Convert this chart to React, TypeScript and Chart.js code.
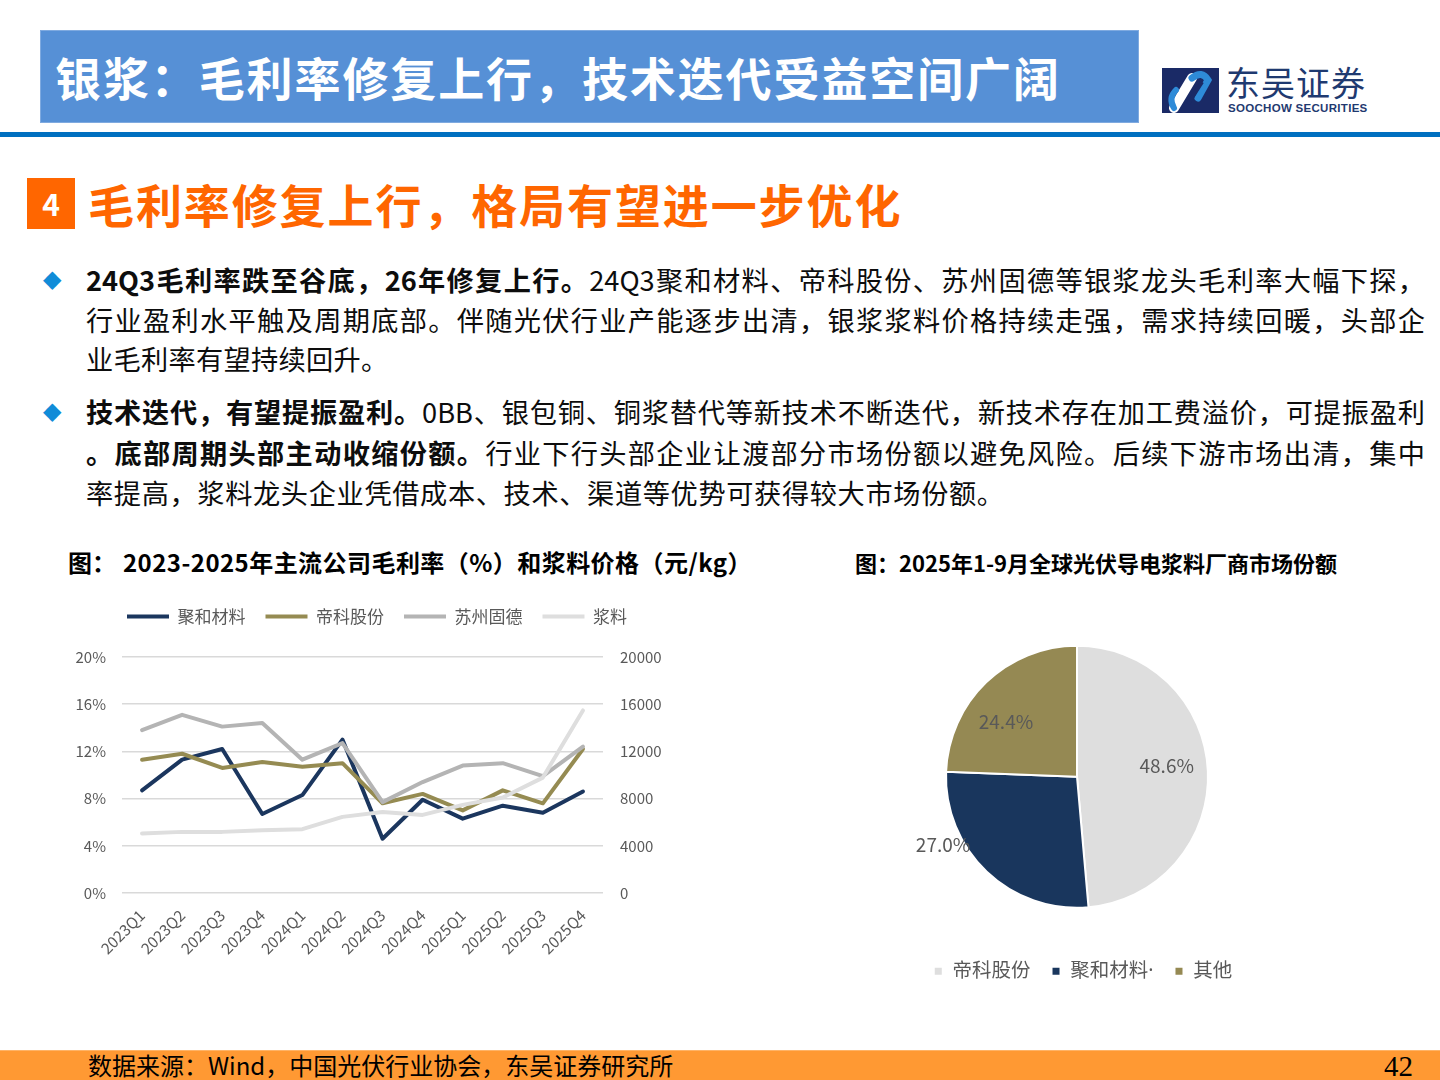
import React, { useEffect, useRef } from "react";
import { Chart, registerables } from "chart.js";
Chart.register(...registerables);

// ---------- data ----------
const quarters = ["2023Q1", "2023Q2", "2023Q3", "2023Q4", "2024Q1", "2024Q2", "2024Q3", "2024Q4", "2025Q1", "2025Q2", "2025Q3", "2025Q4"];
const juheMargin = [8.7, 11.3, 12.2, 6.7, 8.3, 13.0, 4.6, 7.9, 6.3, 7.4, 6.8, 8.6];
const dikeMargin = [11.3, 11.8, 10.6, 11.1, 10.7, 11.0, 7.6, 8.4, 7.0, 8.7, 7.6, 12.2];
const gudeMargin = [13.8, 15.1, 14.1, 14.4, 11.3, 12.7, 7.7, 9.4, 10.8, 11.0, 9.9, 12.4];
const pastePrice = [5040, 5180, 5180, 5320, 5410, 6450, 6870, 6620, 7470, 8090, 9780, 15470];
const lineSeriesNames = ["聚和材料", "帝科股份", "苏州固德", "浆料"];
const marginAxisMax = 20;
const marginAxisStep = 4;
const priceAxisMax = 20000;
const priceAxisStep = 4000;

const shareLabels = ["帝科股份", "聚和材料·", "其他"];
const shareValues = [48.6, 27.0, 24.4];

// ---------- styles ----------
const NAVY = "#1B365E";
const OLIVE = "#958B52";
const GRAY = "#B4B4B4";
const LIGHT = "#DEDEDE";
const TEXT_GRAY = "#595959";
const CJK = '"Noto Sans CJK SC", "Noto Sans", sans-serif';
const LATIN_CJK = '"Noto Sans", "Noto Sans CJK SC", sans-serif';

const legendShift = (dx: number) => ({
  id: "legendShift",
  afterLayout(chart: any) {
    const lg = chart.legend;
    if (lg) {
      lg.left += dx;
      lg.right += dx;
    }
  },
});

function LineChart() {
  const ref = useRef<HTMLCanvasElement>(null);
  useEffect(() => {
    const legendGap = {
      id: "legendGap",
      beforeInit(chart: any) {
        const lg = chart.legend;
        if (lg) {
          const fit = lg.fit;
          lg.fit = function () {
            fit.call(this);
            this.height += 22;
          };
        }
      },
    };
    const common = { pointRadius: 0, borderWidth: 4, tension: 0, borderJoinStyle: "round", borderCapStyle: "round" };
    const chart = new Chart(ref.current!, {
      type: "line",
      data: {
        labels: quarters,
        datasets: [
          { label: lineSeriesNames[3], data: pastePrice, borderColor: LIGHT, backgroundColor: LIGHT, yAxisID: "y2", ...common },
          { label: lineSeriesNames[2], data: gudeMargin, borderColor: GRAY, backgroundColor: GRAY, yAxisID: "y", ...common },
          { label: lineSeriesNames[1], data: dikeMargin, borderColor: OLIVE, backgroundColor: OLIVE, yAxisID: "y", ...common },
          { label: lineSeriesNames[0], data: juheMargin, borderColor: NAVY, backgroundColor: NAVY, yAxisID: "y", ...common },
        ] as any,
      },
      options: {
        animation: false,
        responsive: false,
        maintainAspectRatio: false,
        layout: { padding: { left: 8 } },
        plugins: {
          tooltip: { enabled: false },
          legend: {
            position: "top",
            reverse: true,
            labels: {
              color: TEXT_GRAY,
              font: { family: CJK, size: 17 },
              boxWidth: 42,
              boxHeight: 4,
              padding: 20,
              generateLabels: (c: any) =>
                (Chart.defaults.plugins.legend.labels as any).generateLabels(c).map((l: any) => ({ ...l, lineWidth: 0 })),
            },
          },
        },
        scales: {
          x: {
            offset: true,
            grid: { display: false, drawTicks: false },
            border: { display: false },
            ticks: {
              color: TEXT_GRAY,
              font: { family: CJK, size: 15.5 },
              minRotation: 45,
              maxRotation: 45,
              autoSkip: false,
              padding: 13,
            },
            afterFit: (s: any) => {
              s.height = 82;
            },
          },
          y: {
            position: "left",
            min: 0,
            max: marginAxisMax,
            ticks: {
              stepSize: marginAxisStep,
              callback: (v: any) => v + "%",
              color: TEXT_GRAY,
              font: { family: CJK, size: 15 },
              padding: 16,
            },
            grid: { color: "#D9D9D9", lineWidth: 1.5, drawTicks: false },
            border: { display: false },
            afterFit: (s: any) => {
              s.width = 54;
            },
          },
          y2: {
            position: "right",
            min: 0,
            max: priceAxisMax,
            ticks: {
              stepSize: priceAxisStep,
              callback: (v: any) => String(v),
              color: TEXT_GRAY,
              font: { family: CJK, size: 15 },
              padding: 17,
            },
            grid: { display: false, drawTicks: false },
            border: { display: false },
            afterFit: (s: any) => {
              s.width = 77;
            },
          },
        },
      } as any,
      plugins: [legendGap, legendShift(3)],
    });
    return () => chart.destroy();
  }, []);
  return (
    <canvas
      ref={ref}
      width={620}
      height={387}
      style={{ position: "absolute", left: 60, top: 588, width: 620, height: 387 }}
    />
  );
}

function PieChart() {
  const ref = useRef<HTMLCanvasElement>(null);
  useEffect(() => {
    const pieLabels = {
      id: "pieLabels",
      afterDatasetsDraw(chart: any) {
        const meta = chart.getDatasetMeta(0);
        const ctx = chart.ctx;
        const radial = [0.69, 1.147, 0.686];
        const shift = [-4.5, 19.5, -8.3];
        ctx.save();
        ctx.font = `19px ${CJK}`;
        ctx.fillStyle = TEXT_GRAY;
        ctx.textAlign = "center";
        ctx.textBaseline = "middle";
        meta.data.forEach((arc: any, i: number) => {
          const p = arc.getProps(["x", "y", "startAngle", "endAngle", "outerRadius"], true);
          const a = (p.startAngle + p.endAngle) / 2 + (shift[i] * Math.PI) / 180;
          const r = p.outerRadius * radial[i];
          const v = chart.data.datasets[0].data[i];
          ctx.fillText(Number(v).toFixed(1) + "%", p.x + r * Math.cos(a), p.y + r * Math.sin(a));
        });
        ctx.restore();
      },
    };
    const chart = new Chart(ref.current!, {
      type: "pie",
      data: {
        labels: shareLabels,
        datasets: [
          {
            data: shareValues,
            backgroundColor: [LIGHT, "#19365D", "#958953"],
            borderColor: "#FFFFFF",
            borderWidth: 2,
          },
        ],
      },
      options: {
        animation: false,
        responsive: false,
        maintainAspectRatio: false,
        radius: 131,
        layout: { padding: { top: 13 } },
        plugins: {
          tooltip: { enabled: false },
          legend: {
            position: "bottom",
            labels: {
              color: TEXT_GRAY,
              font: { family: LATIN_CJK, size: 19.5 },
              boxWidth: 9,
              boxHeight: 9,
              padding: 21,
            },
          },
        },
      } as any,
      plugins: [pieLabels, legendShift(6)],
    });
    return () => chart.destroy();
  }, []);
  return (
    <canvas
      ref={ref}
      width={420}
      height={391}
      style={{ position: "absolute", left: 867, top: 600, width: 420, height: 391 }}
    />
  );
}

const abs = (s: React.CSSProperties): React.CSSProperties => ({ position: "absolute", ...s });

function Line({ top, children, justify, spacing }: { top: number; children: React.ReactNode; justify?: boolean; spacing?: number }) {
  return (
    <div
      style={abs({
        left: 86,
        top,
        width: 1339,
        height: 40,
        lineHeight: "40px",
        fontSize: 27.2,
        fontFamily: CJK,
        color: "#0D0D0D",
        whiteSpace: "nowrap",
        letterSpacing: spacing || 0,
        textAlign: justify ? "justify" : "left",
        textAlignLast: justify ? "justify" : "left",
      } as any)}
    >
      {children}
    </div>
  );
}

function Diamond({ top }: { top: number }) {
  return (
    <div style={abs({ left: 43, top, fontSize: 24, lineHeight: "40px", color: "#108CD8", fontFamily: "DejaVu Sans" })}>◆</div>
  );
}

export default function App() {
  return (
    <div
      style={abs({
        left: 0,
        top: 0,
        width: 1440,
        height: 1080,
        background: "#FFFFFF",
        overflow: "hidden",
        fontFamily: CJK,
      } as any)}
    >
      {/* header */}
      <div style={abs({ left: 40, top: 30, width: 1099, height: 93, background: "#5690D6", boxShadow: "inset 0 0 0 1px #7FAAE0" })} />
      <div
        style={abs({
          left: 55,
          top: 30,
          height: 93,
          lineHeight: "93px",
          fontSize: 46,
          fontWeight: 700,
          color: "#FFFFFF",
          letterSpacing: 1.9,
          whiteSpace: "nowrap",
        })}
      >
        银浆：毛利率修复上行，技术迭代受益空间广阔
      </div>
      {/* logo */}
      <svg style={abs({ left: 1162, top: 68 })} width={57} height={45} viewBox="0 0 57 45">
        <rect x={0} y={0} width={57} height={45} fill="#1A2A66" />
        <path d="M12 40 L30 10" stroke="#FFFFFF" strokeWidth={10} strokeLinecap="round" />
        <path d="M30 10 Q40 2 46 12 L36 30" stroke="#2E8BD8" strokeWidth={7} fill="none" strokeLinecap="round" />
        <path d="M12 40 Q6 30 14 22" stroke="#2E8BD8" strokeWidth={6} fill="none" strokeLinecap="round" />
        <path d="M26 36 L40 14" stroke="#1A2A66" strokeWidth={4} />
      </svg>
      <div style={abs({ left: 1226, top: 62, fontSize: 34, lineHeight: "40px", color: "#1F3A70", letterSpacing: 1, whiteSpace: "nowrap" })}>
        东吴证券
      </div>
      <div
        style={abs({
          left: 1228,
          top: 101,
          fontSize: 11.5,
          lineHeight: "14px",
          fontWeight: 700,
          color: "#1F3A70",
          letterSpacing: 0.3,
          whiteSpace: "nowrap",
          fontFamily: '"Liberation Sans", sans-serif',
        })}
      >
        SOOCHOW SECURITIES
      </div>
      <div style={abs({ left: 0, top: 132, width: 1440, height: 5, background: "#0070C0" })} />

      {/* section title */}
      <div style={abs({ left: 27, top: 178, width: 48, height: 51, background: "#FF6600" })} />
      <div
        style={abs({ left: 27, top: 178, width: 48, height: 51, lineHeight: "51px", textAlign: "center", fontSize: 30, fontWeight: 700, color: "#FFFFFF" })}
      >
        4
      </div>
      <div
        style={abs({ left: 88, top: 178, height: 51, lineHeight: "51px", fontSize: 46, fontWeight: 700, color: "#FF6600", letterSpacing: 1.9, whiteSpace: "nowrap" })}
      >
        毛利率修复上行，格局有望进一步优化
      </div>

      {/* bullets */}
      <Diamond top={259} />
      <Line top={259} justify>
        <b>24Q3毛利率跌至谷底，26年修复上行。</b>24Q3聚和材料、帝科股份、苏州固德等银浆龙头毛利率大幅下探，
      </Line>
      <Line top={299} justify>
        行业盈利水平触及周期底部。伴随光伏行业产能逐步出清，银浆浆料价格持续走强，需求持续回暖，头部企
      </Line>
      <Line top={338} spacing={0.3}>业毛利率有望持续回升。</Line>

      <Diamond top={391} />
      <Line top={391} justify>
        <b>技术迭代，有望提振盈利。</b>0BB、银包铜、铜浆替代等新技术不断迭代，新技术存在加工费溢价，可提振盈利
      </Line>
      <Line top={432} justify>
        <b>。底部周期头部主动收缩份额。</b>行业下行头部企业让渡部分市场份额以避免风险。后续下游市场出清，集中
      </Line>
      <Line top={472} spacing={0.65}>率提高，浆料龙头企业凭借成本、技术、渠道等优势可获得较大市场份额。</Line>

      {/* chart titles */}
      <div style={abs({ left: 68, top: 545, fontSize: 24, lineHeight: "34px", fontWeight: 700, color: "#000", whiteSpace: "nowrap" })}>
        图：
      </div>
      <div
        style={abs({ left: 123, top: 545, fontSize: 24, lineHeight: "34px", fontWeight: 700, color: "#000", whiteSpace: "nowrap", letterSpacing: 0.45 })}
      >
        2023-2025年主流公司毛利率（%）和浆料价格（元/kg）
      </div>
      <div style={abs({ left: 855, top: 546, fontSize: 22, lineHeight: "32px", fontWeight: 700, color: "#000", whiteSpace: "nowrap" })}>
        图：2025年1-9月全球光伏导电浆料厂商市场份额
      </div>

      <LineChart />
      <PieChart />

      {/* footer */}
      <div style={abs({ left: 0, top: 1050, width: 1440, height: 30, background: "#FF9933", borderTop: "1px solid #FFB366", boxSizing: "border-box" })} />
      <div style={abs({ left: 88, top: 1050, height: 30, lineHeight: "30px", fontSize: 24, color: "#000", whiteSpace: "nowrap" })}>
        数据来源：Wind，中国光伏行业协会，东吴证券研究所
      </div>
      <div style={abs({ left: 1384, top: 1050, height: 30, lineHeight: "32px", fontSize: 29, color: "#000", fontFamily: '"Liberation Serif", serif' })}>
        42
      </div>
    </div>
  );
}
